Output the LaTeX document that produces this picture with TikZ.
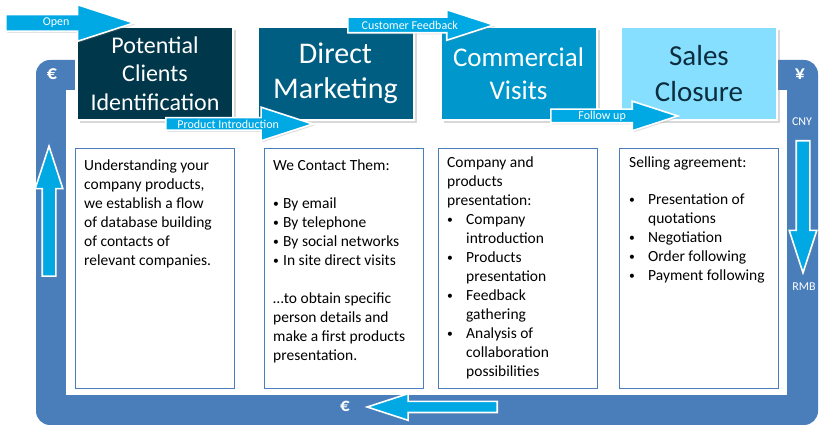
\documentclass[tikz,border=0pt]{standalone}
\usepackage{fontspec}
\setmainfont{Carlito}
\usetikzlibrary{positioning, calc, shadows, shapes.arrows}
\definecolor{frameblue}{HTML}{4A7EBB}
\definecolor{flowcyan}{HTML}{00A8E4}
\definecolor{stepone}{HTML}{00374B}
\definecolor{steptwo}{HTML}{005E82}
\definecolor{stepthree}{HTML}{0098CC}
\definecolor{stepfour}{HTML}{87DFFF}
\definecolor{darktext}{HTML}{0B2D3E}
\newcommand{\bul}[1][19pt]{\makebox[#1][l]{\raisebox{0.15ex}{\scalebox{0.75}{\textbullet}}}}
\newcommand{\ind}{\hspace*{19pt}}

\begin{document}
\begin{tikzpicture}[x=1pt, y=-1pt,
    header/.style={draw=white, line width=2pt, fill=#1, minimum width=156pt, minimum height=93pt, align=center, text=white, drop shadow={opacity=0.3, shadow xshift=3pt, shadow yshift=-3pt}},
    descbox/.style={draw=frameblue, line width=0.8pt, fill=white, minimum width=159pt, minimum height=240pt, anchor=north west},
    desctext/.style={anchor=north west, align=left, inner sep=0pt, font=\fontsize{15.5}{19}\selectfont},
    flow/.style={single arrow, draw=white, line width=1.6pt, fill=flowcyan, single arrow tip angle=36, inner xsep=0pt, anchor=tail, drop shadow={opacity=0.25, shadow xshift=1.5pt, shadow yshift=-1.5pt}},
    flowlabel/.style={text=white, inner sep=0pt, font=\fontsize{12}{12}\selectfont},
    money/.style={text=white, font=\fontsize{20}{20}\selectfont\bfseries},
    moneytag/.style={text=white, font=\fontsize{12}{12}\selectfont},
]
    \useasboundingbox (0,0) rectangle (828,435);
    \fill[white] (0,0) rectangle (828,435);

    % Frame around the cycle
    \fill[frameblue, rounded corners=14pt] (36,60) rectangle (818,425);
    \fill[white] (66,90) rectangle (787,395);
    \fill[white] (75,50) rectangle (778,91);

    % Description boxes
    \node[descbox] (desc1) at (75,148) {};
    \node[descbox] (desc2) at (264,148) {};
    \node[descbox] (desc3) at (438,148) {};
    \node[descbox] (desc4) at (619,148) {};

    \node[desctext] (text1) at (84,160) {Understanding your\\company products,\\we establish a flow\\of database building\\of contacts of\\relevant companies.};
    \node[desctext] (text2) at (273,160) {We Contact Them:\\[19pt]\bul[10pt]By email\\\bul[10pt]By telephone\\\bul[10pt]By social networks\\\bul[10pt]In site direct visits\\[19pt]…to obtain specific\\person details and\\make a first products\\presentation.};
    \node[desctext] (text3) at (447,157) {Company and\\products\\presentation:\\\bul Company\\\ind introduction\\\bul Products\\\ind presentation\\\bul Feedback\\\ind gathering\\\bul Analysis of\\\ind collaboration\\\ind possibilities};
    \node[desctext] (text4) at (629,157) {Selling agreement:\\[18pt]\bul Presentation of\\\ind quotations\\\bul Negotiation\\\bul Order following\\\bul Payment following};

    % Step headers
    \node[header=stepone, font=\fontsize{24}{28.5}\selectfont] (step1) at (155,73.5) {Potential\\Clients\\Identification};
    \node[header=steptwo, font=\fontsize{30}{35}\selectfont] (step2) at (335.5,73.5) {Direct\\Marketing};
    \node[header=stepthree, font=\fontsize{27}{33}\selectfont] (step3) at (518.5,73.5) {Commercial\\Visits};
    \node[header=stepfour, font=\fontsize{29}{36}\selectfont, text=darktext] (step4) at (699,73.5) {Sales\\Closure};

    % Flow arrows
    \node[flow, inner ysep=7.5pt, single arrow head extend=10pt, minimum height=128pt] (open) at (5,23) {};
    \node[flow, inner ysep=5.5pt, single arrow head extend=10.5pt, minimum height=147pt] (intro) at (165,124) {};
    \node[flow, inner ysep=7pt, single arrow head extend=7.5pt, minimum height=146pt] (feedback) at (347,25) {};
    \node[flow, inner ysep=6pt, single arrow head extend=8pt, minimum height=127pt] (follow) at (550,116) {};
    \node[flowlabel] (openlbl) at ($(open.tail)!0.39!(open.tip)$) {Open};
    \node[flowlabel] (introlbl) at ($(intro.tail)!0.42!(intro.tip)$) {Product Introduction};
    \node[flowlabel] (feedbacklbl) at ($(feedback.tail)!0.42!(feedback.tip)$) {Customer Feedback};
    \node[flowlabel] (followlbl) at ($(follow.tail)!0.40!(follow.tip)$) {Follow up};

    % Money arrows on the frame
    \node[flow, rotate=90, inner ysep=6pt, single arrow head extend=7pt, minimum height=130pt] (moneyup) at (49,277) {};
    \node[flow, rotate=-90, inner ysep=6pt, single arrow head extend=7pt, minimum height=132pt] (moneydown) at (803,140) {};
    \node[flow, rotate=180, inner ysep=4.75pt, single arrow head extend=7.75pt, minimum height=130pt] (moneyback) at (498,407) {};

    % Currency labels
    \node[money] (eurtop) at (52,74) {€};
    \node[money] (yen) at (800,74) {¥};
    \node[moneytag] (cny) at (802,122) {CNY};
    \node[moneytag] (rmb) at (804,287) {RMB};
    \node[money, font=\fontsize{19}{19}\selectfont\bfseries] (eurbot) at (345,406) {€};
\end{tikzpicture}
\end{document}
